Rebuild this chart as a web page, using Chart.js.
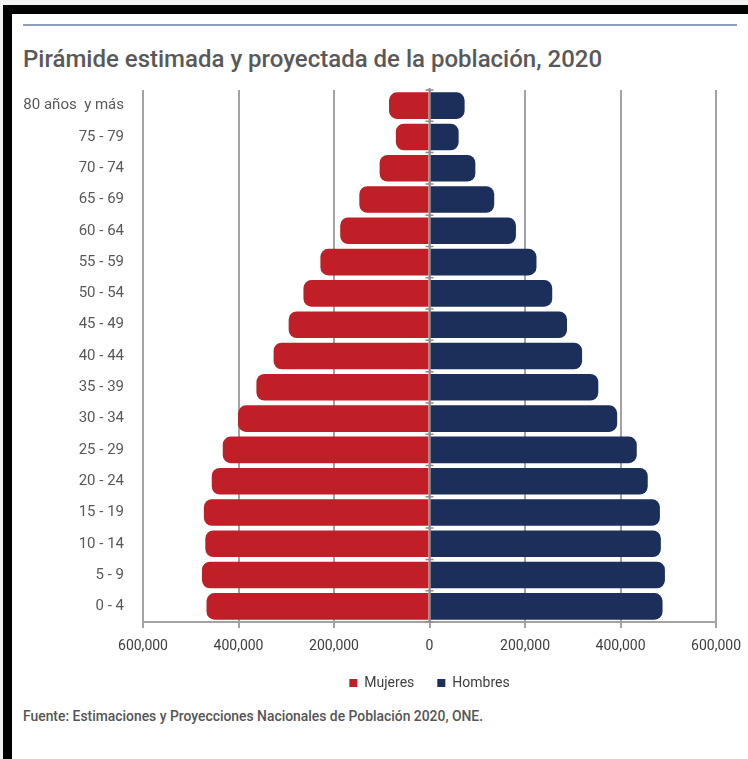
<!DOCTYPE html>
<html lang="es">
<head>
    <meta charset="UTF-8">
    <script src="https://cdn.jsdelivr.net/npm/chart.js"></script>
    <title>Pirámide de población 2020</title>
</head>
<style>
    body {
        margin: 0;
        width: 748px;
        height: 759px;
        background: #f0f0f0;
        font-family: Roboto, sans-serif;
        overflow: hidden;
        position: relative;
    }
    .marco {
        position: absolute;
        left: 3px; top: 5px; right: 0; bottom: 0;
        background: #000;
    }
    .hoja {
        position: absolute;
        left: 12px; top: 14px; right: 0; bottom: 0;
        background: #fff;
    }
    .linea {
        position: absolute;
        left: 23px; top: 24px;
        width: 714px; height: 2px;
        background: #8da0bd;
    }
    .titulo {
        position: absolute;
        left: 23px; top: 47px;
        font-size: 24px;
        line-height: 24px;
        font-weight: 500;
        color: #595959;
        white-space: nowrap;
    }
    .fuente {
        position: absolute;
        left: 23px; top: 708px;
        font-size: 14px;
        line-height: 16px;
        font-weight: 500;
        color: #555;
        white-space: nowrap;
        transform-origin: left top;
    }
    .chart-container {
        position: absolute;
        left: 12px; top: 70px;
        width: 739px; height: 630px;
    }
</style>
<body>
<div class="marco"></div>
<div class="hoja"></div>
<div class="linea"></div>
<div class="titulo" id="titulo">Pirámide estimada y proyectada de la población, 2020</div>

<div class="chart-container">
    <canvas id="piramide"></canvas>
</div>

<div class="fuente" id="fuente">Fuente: Estimaciones y Proyecciones Nacionales de Población 2020, ONE.</div>

<script>
    const edades = ['80 años  y más', '75 - 79', '70 - 74', '65 - 69', '60 - 64', '55 - 59', '50 - 54',
        '45 - 49', '40 - 44', '35 - 39', '30 - 34', '25 - 29', '20 - 24', '15 - 19', '10 - 14', '5 - 9', '0 - 4'];
    const mujeres = [84800, 70500, 104500, 147000, 187000, 228500, 264000, 295000, 326500,
        362500, 401000, 433000, 456000, 472500, 469500, 476500, 467000];
    const hombres = [73500, 61000, 96000, 135500, 181000, 224000, 257000, 288000, 319500,
        353500, 393000, 434000, 457000, 482500, 484500, 493000, 488000];
    const ticksX = [-600000, -400000, -200000, 0, 200000, 400000, 600000];

    // línea gris en el cero con marcas entre grupos
    const ejeCentral = {
        id: 'ejeCentral',
        afterDatasetsDraw(chart) {
            const {ctx, chartArea, scales} = chart;
            const x0 = scales.x.getPixelForValue(0);
            const paso = (chartArea.bottom - chartArea.top) / edades.length;
            ctx.save();
            ctx.strokeStyle = '#8c8c8c';
            ctx.lineWidth = 2;
            ctx.beginPath();
            ctx.moveTo(x0, chartArea.top - 2);
            ctx.lineTo(x0, chartArea.bottom);
            ctx.stroke();
            ctx.lineWidth = 1.5;
            ctx.beginPath();
            for (let i = 0; i <= edades.length; i++) {
                const y = chartArea.top + i * paso;
                ctx.moveTo(x0 - 4, y);
                ctx.lineTo(x0 + 4, y);
            }
            ctx.stroke();
            ctx.restore();
        }
    };

    new Chart(document.getElementById('piramide'), {
        type: 'bar',
        data: {
            labels: edades,
            datasets: [{
                label: 'Mujeres',
                data: mujeres.map(v => -v),
                backgroundColor: '#c11f27',
                borderRadius: 8,
                barPercentage: 0.85,
                categoryPercentage: 1.0
            }, {
                label: 'Hombres',
                data: hombres,
                backgroundColor: '#1c2f5a',
                borderRadius: 8,
                barPercentage: 0.85,
                categoryPercentage: 1.0
            }]
        },
        options: {
            indexAxis: 'y',
            responsive: true,
            maintainAspectRatio: false,
            animation: false,
            layout: {
                padding: {left: 11, right: 29, top: 20, bottom: 0}
            },
            scales: {
                x: {
                    stacked: true,
                    min: -600000,
                    max: 600000,
                    afterBuildTicks: (scale) => {
                        scale.ticks = ticksX.map(v => ({value: v}));
                    },
                    afterFit: (scale) => {
                        scale.height = 31;
                    },
                    grid: {
                        color: '#a3a3a3',
                        lineWidth: 2,
                        drawTicks: true,
                        tickLength: 6
                    },
                    border: {
                        display: true,
                        color: '#a3a3a3',
                        width: 2
                    },
                    ticks: {
                        padding: 10,
                        color: '#404040',
                        font: {family: 'Roboto', size: 14},
                        maxRotation: 0,
                        callback: (v) => Math.abs(v).toLocaleString('en-US')
                    }
                },
                y: {
                    stacked: true,
                    grid: {display: false, drawTicks: false},
                    border: {display: false},
                    afterFit: (scale) => {
                        scale.width = 120;
                        scale.paddingTop = 9;
                        scale.paddingBottom = 9;
                    },
                    ticks: {
                        padding: 19,
                        color: '#595959',
                        font: {family: 'Roboto', size: 15}
                    }
                }
            },
            plugins: {
                legend: {
                    position: 'bottom',
                    fullSize: false,
                    labels: {
                        boxWidth: 8,
                        boxHeight: 8,
                        padding: 23,
                        color: '#404040',
                        font: {family: 'Roboto', size: 14}
                    }
                },
                tooltip: {enabled: false}
            }
        },
        plugins: [ejeCentral]
    });

    // ajustar el ancho de la nota de fuente
    const fuente = document.getElementById('fuente');
    fuente.style.transform = 'scaleX(' + (460 / fuente.scrollWidth) + ')';
</script>
</body>
</html>
